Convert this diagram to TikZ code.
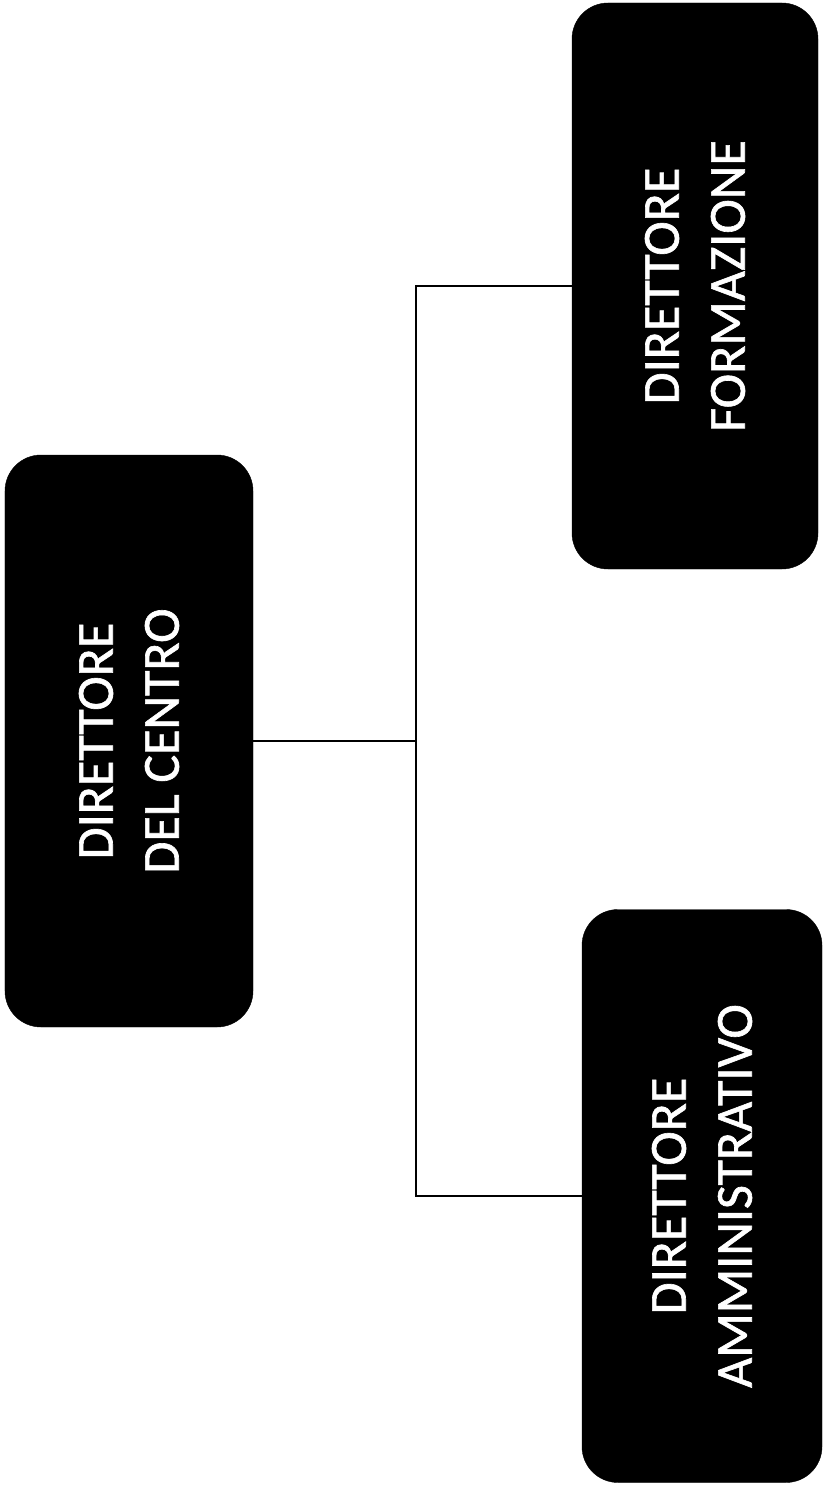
\documentclass[tikz,border=0pt]{standalone}
\usepackage{fontspec}
\setmainfont{Carlito}
\newfontfamily\boxfont{Carlito}[FakeBold=1.2]
\tikzset{
  box/.style={rectangle, rounded corners=36bp, fill=black, draw=black, text=white,
    rotate=90, align=center, inner sep=0pt,
    font=\boxfont\fontsize{52bp}{66bp}\selectfont},
  link/.style={draw=black, line width=1.8bp}
}
\begin{document}
\begin{tikzpicture}[x=1bp,y=-1bp]
\useasboundingbox (0,0) rectangle (823,1488);
\node[box, minimum width=572bp, minimum height=248bp] (b1) at (129,741) {DIRETTORE\\DEL CENTRO};
\node[box, minimum width=566bp, minimum height=246bp] (b2) at (695,286) {DIRETTORE\\FORMAZIONE};
\node[box, minimum width=573bp, minimum height=240bp] (b3) at (702,1196) {DIRETTORE\\AMMINISTRATIVO};
\coordinate (j) at (416,741);
\draw[link] (b1.south) -- (j);
\draw[link] (b2.north) -| (j) |- (b3.north);
\end{tikzpicture}
\end{document}
